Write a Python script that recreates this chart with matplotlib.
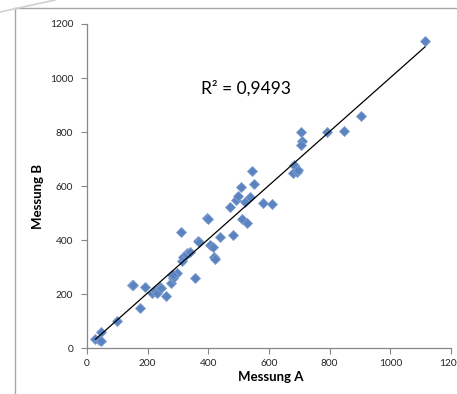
import numpy as np
import matplotlib
matplotlib.use("Agg")
import matplotlib.pyplot as plt
from matplotlib.lines import Line2D

# Data
messung_a = [28, 40, 45, 45, 100, 148, 150, 175, 190, 213, 224, 232, 241, 245, 260,
             276, 285, 279, 298, 285, 312, 309, 318, 329, 325, 340, 356, 367, 370, 397,
             400, 406, 416, 420, 423, 439, 471, 480, 491, 499, 508, 512, 521, 528, 537,
             543, 551, 581, 611, 683, 680, 691, 697, 705, 710, 705, 792, 848, 903, 1114]
messung_b = [35, 32, 60, 28, 102, 236, 234, 148, 228, 206, 213, 203, 228, 222, 193,
             240, 259, 271, 277, 271, 324, 431, 337, 354, 345, 357, 259, 398, 395, 483,
             480, 382, 376, 337, 332, 411, 522, 419, 549, 563, 596, 477, 542, 465, 561,
             656, 608, 539, 534, 680, 650, 653, 660, 801, 768, 752, 801, 805, 858, 1136]
x_ticks = [0, 200, 400, 600, 800, 1000, 1200]
y_ticks = [0, 200, 400, 600, 800, 1000, 1200]
r2_text = "R² = 0,9493"

plt.rcParams['font.family'] = ['Lato', 'DejaVu Sans']

W, H = 457, 394
fig = plt.figure(figsize=(W / 100, H / 100), dpi=100)
fig.patch.set_facecolor('white')

# frame of the chart object
fig.add_artist(Line2D([15 / W, 15 / W], [0, 1 - 8 / H], transform=fig.transFigure,
                      color='#a6a6a6', lw=1.0))
fig.add_artist(Line2D([15 / W, 1], [1 - 8 / H, 1 - 8 / H], transform=fig.transFigure,
                      color='#a6a6a6', lw=1.0))
fig.add_artist(Line2D([0, 55 / W], [1 - 12 / H, 1], transform=fig.transFigure,
                      color='#d0d0d0', lw=1.2))

left, right = 87 / W, 451 / W
bottom, top = 1 - 348.3 / H, 1 - 24 / H
ax = fig.add_axes([left, bottom, right - left, top - bottom])

xa = np.array(messung_a, dtype=float)
yb = np.array(messung_b, dtype=float)
ax.plot(xa, yb, linestyle='none', marker='D', markersize=5.5,
        markerfacecolor='#5b83c0', markeredgecolor='#7f9fd0', markeredgewidth=0.6,
        zorder=2)

k, d = np.polyfit(xa, yb, 1)
xs = np.array([xa.min(), xa.max()])
ax.plot(xs, k * xs + d, color='black', lw=0.9, zorder=3)

ax.set_xlim(0, 1200)
ax.set_ylim(0, 1200)
ax.set_xticks(x_ticks)
ax.set_yticks(y_ticks)
ax.tick_params(axis='both', labelsize=7.3, color='#868686', length=4, width=0.8,
               direction='out', labelcolor='#222222')
ax.tick_params(axis='x', pad=4)
ax.tick_params(axis='y', pad=6)
for s in ['top', 'right']:
    ax.spines[s].set_visible(False)
for s in ['left', 'bottom']:
    ax.spines[s].set_color('#868686')
    ax.spines[s].set_linewidth(0.9)

axw = (451 - 87)
axh = (348.3 - 24)
ax.set_xlabel('Messung A', fontsize=9.5, fontweight='bold', va='center')
ax.xaxis.set_label_coords((271 - 87) / axw, (348.3 - 377) / axh)
ax.set_ylabel('Messung B', fontsize=9.5, fontweight='bold', va='center')
ax.yaxis.set_label_coords((38 - 87) / axw, (348.3 - 197) / axh)

ax.text(201 / W, 1 - 88 / H, r2_text, transform=fig.transFigure,
        fontsize=12.5, ha='left', va='center', color='black')

fig.savefig('out.png', dpi=100, facecolor='white')
